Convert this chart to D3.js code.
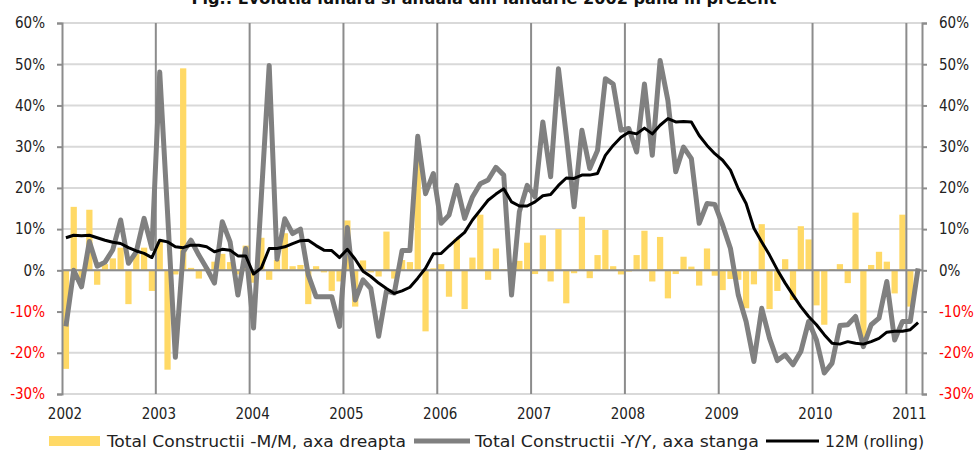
<!DOCTYPE html>
<html>
<head>
<meta charset="utf-8">
<title>Evolutia constructiilor</title>
<script src="https://cdn.jsdelivr.net/npm/d3@7"></script>
<style>
  body { margin: 0; background: #fff; }
  svg { font-family: "DejaVu Sans Condensed", "DejaVu Sans", sans-serif; font-stretch: condensed; }
</style>
</head>
<body>
<div id="chart"></div>
<script>
// ani afisati pe axa X (luna de start = ianuarie)
var years = [2002, 2003, 2004, 2005, 2006, 2007, 2008, 2009, 2010, 2011];
var yTicks = [-30, -20, -10, 0, 10, 20, 30, 40, 50, 60];

// Total Constructii -M/M (bare, axa dreapta), ian 2002 - feb 2011
var mm = [-23.9, 15.4, -2, 14.7, -3.5, 1.5, 2.9, 5.5, -8.2, 4, 5.5, -5,
          7, -24.1, -1, 49, 0.6, -2, 0.5, 2.1, 4, 2, -1, 6,
          -3, 7.9, -2.3, 2.5, 9, 1, 1.3, -8.2, 1, -0.5, -5, -2.7,
          12.1, -8.8, 2.4, -0.5, -1.5, 9.4, -2, 2.5, 2, 27, -14.8, 0.5,
          1.5, -6.4, 7.7, -9.4, 3.1, 13.5, -2.3, 5.3, 0.3, -1, 2.3, 6.7,
          -0.9, 8.5, -2.7, 10, -8, -0.7, 13, -1.9, 3.7, 9.8, 1, -1,
          -0.3, 3.7, 9.6, -2.7, 8.1, -6.8, -0.9, 3.3, 0.9, -3.7, 5.3, -1.3,
          -4.8, -2.1, -2.3, -9.2, -3.4, 11.2, -9.4, -5, 2.7, -7.2, 10.7, 7.5,
          -8.5, -13.2, 0.3, 1.5, -3.1, 14, -17.3, 1.3, 4.5, 2.1, -5.6, 13.5,
          -8.8, null];

// Total Constructii -Y/Y (linie gri, axa stanga)
var yy = [-13.6, 0, -4, 7, 1, 2, 5, 12.2, 1.7, 4.5, 12.6, 5.3,
          48.1, 14, -21.1, 4.5, 7.3, 3.7, 0.5, -3.1, 11.8, 6.9, -6, 5.3,
          -14, 18, 49.7, 2.7, 12.5, 8.9, 10, -1.1, -6.4, -6.4, -6.4, -13.6,
          10.4, -7.2, -2.3, -4.4, -16, -5, -5.5, 4.8, 4.8, 32.5, 18.6, 23.5,
          11.4, 13.4, 20.6, 12.6, 17.8, 21, 21.9, 25, 23.1, -6, 14.2, 20.6,
          17.8, 36, 22.7, 48.9, 32.7, 15.4, 34, 24.7, 29.1, 46.5, 45.2, 34,
          34.4, 28.7, 45.2, 27.9, 50.9, 41.2, 23.9, 29.9, 27.1, 11.4, 16.2, 16,
          11, 5.3, -6, -12.4, -22.1, -9.2, -16.5, -21.9, -20.5, -22.9, -19.7, -12.4,
          -16.9, -24.9, -22.5, -13.4, -13.2, -11.2, -18.5, -13.2, -11.6, -2.7, -16.9, -12.4,
          -12.4, 0.5];

// 12M (rolling) - linie neagra
var roll = [7.9, 8.5, 8.4, 8.5, 7.9, 7.3, 6.8, 6.5, 5.5, 4.7, 4.1, 3.1,
            7.3, 6.9, 5.7, 5.5, 6.1, 6.1, 5.7, 4.5, 5.1, 4.9, 3.5, 3.5,
            -0.9, 0.6, 5.3, 5.3, 5.7, 6.5, 7.2, 7.3, 6, 4.9, 4.8, 3.1,
            5.1, 2.7, -0.2, -1.5, -3.1, -4.4, -5.6, -5, -4.1, -1.9, 0.5, 4,
            4.1, 5.9, 7.6, 9.2, 12.2, 14.6, 17, 18.5, 19.8, 16.6, 15.6, 15.6,
            16.6, 18.1, 18.4, 20.6, 22.4, 22.3, 23.1, 23.1, 23.5, 27.9, 30.3, 32.3,
            33.5, 33.1, 34.5, 33.1, 35.2, 36.8, 36, 36.1, 36, 32.7, 30.3, 28.3,
            26.7, 24.3, 19.8, 16.2, 10.2, 6.9, 3.7, 0.1, -3.1, -6, -8.8, -11.2,
            -13.2, -15.6, -17.7, -17.9, -17.3, -17.7, -17.9, -17.3, -16.5, -15, -14.8, -14.8,
            -14.4, -12.7];

var legendLabels = ["Total Constructii -M/M, axa dreapta", "Total Constructii -Y/Y, axa stanga", "12M (rolling)"];
var title = "Fig.: Evolutia lunara si anuala din ianuarie 2002 pana in prezent";

(function() {
    // categorii lunare
    var months = [];
    years.forEach(function(yr) {
        for (var m = 1; m <= 12; m++) months.push(yr + "-" + (m < 10 ? "0" + m : m));
    });
    months = months.slice(0, yy.length);

    var width = 977, height = 451;
    var pl = 62, pr = 922, pt = 23, pb = 394;

    var svg = d3.select("#chart").append("svg")
        .attr("width", width).attr("height", height);

    var x = d3.scaleBand().domain(months).range([pl, pr]).padding(0);
    var y = d3.scaleLinear().domain([-30, 60]).range([pb, pt]);
    var bw = x.bandwidth();

    // linii orizontale de grila
    svg.append("g").selectAll("line").data(yTicks).enter().append("line")
        .attr("x1", pl).attr("x2", pr)
        .attr("y1", function(d) { return y(d); }).attr("y2", function(d) { return y(d); })
        .attr("stroke", "#d9d9d9").attr("stroke-width", 2);

    // bare M/M
    svg.append("g").selectAll("rect").data(mm.map(function(v, i) { return {m: months[i], v: v}; })
            .filter(function(d) { return d.v !== null; }))
        .enter().append("rect")
        .attr("x", function(d) { return x(d.m) + bw * 0.1; })
        .attr("width", bw * 0.8)
        .attr("y", function(d) { return y(Math.max(0, d.v)); })
        .attr("height", function(d) { return Math.abs(y(d.v) - y(0)); })
        .attr("fill", "#ffd966");

    // linia de zero
    svg.append("line").attr("x1", pl).attr("x2", pr)
        .attr("y1", y(0)).attr("y2", y(0))
        .attr("stroke", "#8c8c8c").attr("stroke-width", 2);

    // linii verticale pe ani
    svg.append("g").selectAll("line").data(years.slice(1)).enter().append("line")
        .attr("x1", function(d) { return x(d + "-01"); }).attr("x2", function(d) { return x(d + "-01"); })
        .attr("y1", pt).attr("y2", pb)
        .attr("stroke", "#8c8c8c").attr("stroke-width", 2);

    // axe
    var yAxisL = svg.append("g").attr("transform", "translate(" + pl + ",0)")
        .call(d3.axisLeft(y).tickValues(yTicks).tickSize(5).tickPadding(12)
            .tickFormat(function(d) { return d + "%"; }));
    var yAxisR = svg.append("g").attr("transform", "translate(" + pr + ",0)")
        .call(d3.axisRight(y).tickValues(yTicks).tickSize(5).tickPadding(12)
            .tickFormat(function(d) { return d + "%"; }));

    [yAxisL, yAxisR].forEach(function(ax) {
        ax.attr("font-family", null).attr("font-size", null);
        ax.select(".domain").attr("stroke", "#8c8c8c").attr("stroke-width", 2);
        ax.selectAll(".tick line").attr("stroke", "#8c8c8c").attr("stroke-width", 2);
        ax.selectAll(".tick text")
            .style("font-size", "15px")
            .attr("fill", function(d) { return d < 0 ? "#ff0000" : "#222"; });
    });

    // etichete ani
    svg.append("g").selectAll("text").data(years).enter().append("text")
        .attr("x", function(d) { return x(d + "-01") + 3; })
        .attr("y", 419)
        .attr("text-anchor", "middle")
        .style("font-size", "15px")
        .attr("fill", "#222")
        .text(function(d) { return d; });

    var cx = function(d, i) { return x(months[i]) + bw / 2; };

    // Y/Y gri
    svg.append("path").datum(yy)
        .attr("fill", "none").attr("stroke", "#808080").attr("stroke-width", 5)
        .attr("stroke-linejoin", "round")
        .attr("d", d3.line().x(cx).y(function(d) { return y(d); }));

    // 12M negru
    svg.append("path").datum(roll)
        .attr("fill", "none").attr("stroke", "#000").attr("stroke-width", 3)
        .attr("stroke-linejoin", "round")
        .attr("d", d3.line().x(cx).y(function(d) { return y(d); }));

    // titlu (taiat sus)
    svg.append("text").attr("x", 484).attr("y", 4)
        .attr("text-anchor", "middle")
        .attr("textLength", 585).attr("lengthAdjust", "spacingAndGlyphs")
        .style("font-size", "15px").style("font-weight", "bold")
        .attr("fill", "#111")
        .text(title);

    // legenda
    var lg = svg.append("g").style("font-size", "15px").attr("fill", "#222");
    lg.append("rect").attr("x", 49).attr("y", 436).attr("width", 51).attr("height", 10).attr("fill", "#ffd966");
    lg.append("text").attr("x", 107).attr("y", 447).attr("textLength", 299)
        .attr("lengthAdjust", "spacingAndGlyphs").text(legendLabels[0]);
    lg.append("line").attr("x1", 414).attr("x2", 470).attr("y1", 441).attr("y2", 441)
        .attr("stroke", "#808080").attr("stroke-width", 5);
    lg.append("text").attr("x", 475).attr("y", 447).attr("textLength", 284)
        .attr("lengthAdjust", "spacingAndGlyphs").text(legendLabels[1]);
    lg.append("line").attr("x1", 766).attr("x2", 819).attr("y1", 441).attr("y2", 441)
        .attr("stroke", "#000").attr("stroke-width", 3);
    lg.append("text").attr("x", 825).attr("y", 447).attr("textLength", 99)
        .attr("lengthAdjust", "spacingAndGlyphs").text(legendLabels[2]);
})();
</script>
</body>
</html>
